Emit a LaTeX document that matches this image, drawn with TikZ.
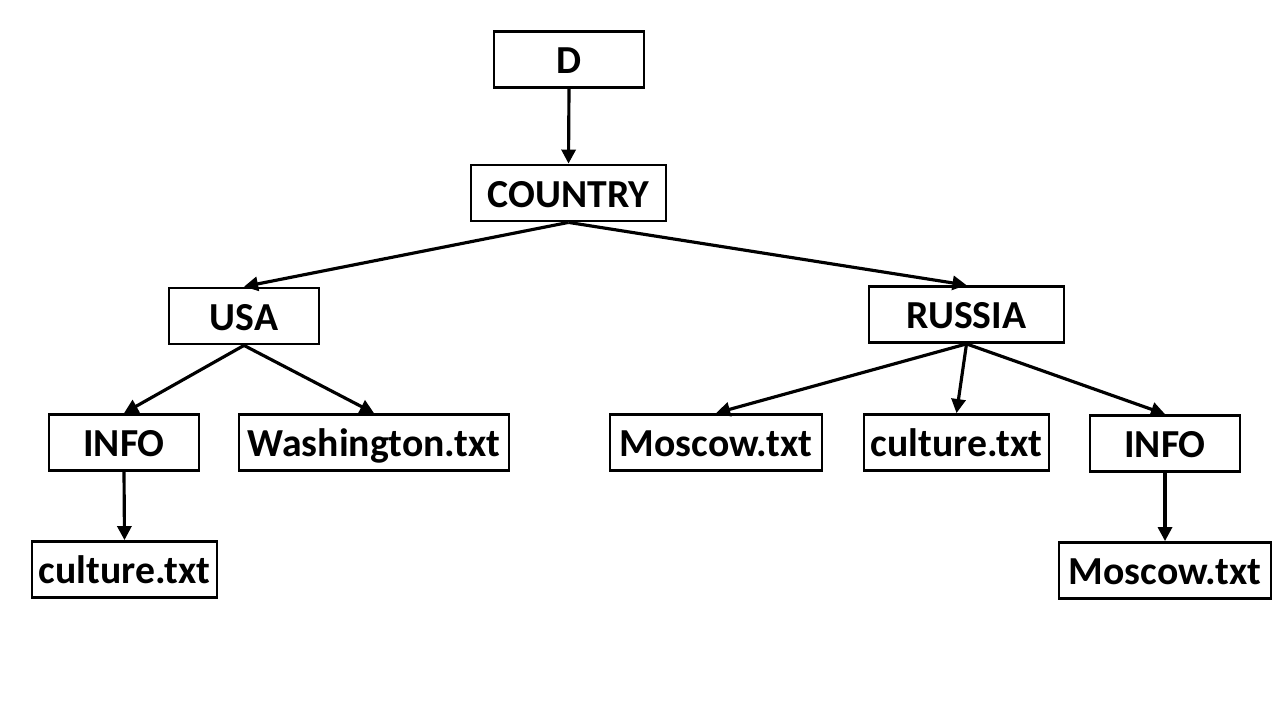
\documentclass[tikz,border=0pt]{standalone}
\usepackage{fontspec}
\setmainfont{Carlito}
\usetikzlibrary{arrows.meta}

\begin{document}
\begin{tikzpicture}[
          x=0.02cm, y=-0.02cm,
          >={Triangle[length=8pt,width=8pt]},
          entry/.style={
            rectangle,
            draw=black,
            line width=1.6pt,
            inner sep=0pt,
            minimum height=1.12cm,
            text height=16pt,
            text depth=0pt,
            font=\fontsize{22.6}{27}\selectfont\bfseries,
          },
          link/.style={->,line width=1.8pt},
        ]
          \useasboundingbox (0,0) rectangle (1280,720);

          \node[entry, minimum width=3cm]   (d)       at (569,59.5)   {D};
          \node[entry, minimum width=3.9cm] (country) at (568.5,193)  {COUNTRY};

          \node[entry, minimum width=3cm]   (usa)     at (244,316)    {USA};
          \node[entry, minimum width=3.9cm] (russia)  at (966.5,314.5){RUSSIA};

          \node[entry, minimum width=3cm]    (info1)   at (124,442.5)  {INFO};
          \node[entry, minimum width=5.4cm]  (wash)    at (374,442.5)  {Washington.txt};
          \node[entry, minimum width=4.24cm] (moscow1) at (716,442.5)  {Moscow.txt};
          \node[entry, minimum width=3.7cm]  (cult2)   at (956.5,442.5){culture.txt};
          \node[entry, minimum width=3cm]    (info2)   at (1165,443.5) {INFO};

          \node[entry, minimum width=3.7cm]  (cult1)   at (124.5,569.5){culture.txt};
          \node[entry, minimum width=4.24cm] (moscow2) at (1165,570.5) {Moscow.txt};

          \draw
              (d.south) edge [link] (country.north)

              (country.south) edge [link] (usa.north)
              (country.south) edge [link] (russia.north)

              (usa.south) edge [link] (info1.north)
              (usa.south) edge [link] (wash.north)

              (russia.south) edge [link] (moscow1.north)
              (russia.south) edge [link] (cult2.north)
              (russia.south) edge [link] (info2.north)

              (info1.south) edge [link] (cult1.north)
              (info2.south) edge [link] (moscow2.north);
        \end{tikzpicture}
\end{document}
